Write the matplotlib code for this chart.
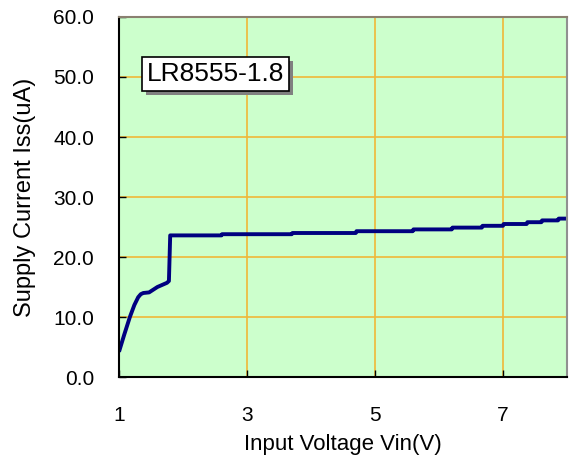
import matplotlib
matplotlib.use("Agg")
import matplotlib.pyplot as plt
from matplotlib import patheffects as pe

plt.rcParams['font.family'] = ['Liberation Sans', 'DejaVu Sans']

vin = [1.0, 1.08, 1.17, 1.24, 1.30, 1.34, 1.38, 1.47, 1.60, 1.75, 1.78, 1.80,
       2.60, 2.61, 3.70, 3.71, 4.70, 4.71, 5.59, 5.60, 6.20, 6.21, 6.67, 6.68,
       7.00, 7.01, 7.37, 7.38, 7.60, 7.61, 7.86, 7.87, 8.0]
iss = [4.2, 7.0, 10.0, 12.0, 13.3, 13.8, 14.0, 14.1, 15.0, 15.7, 16.0, 23.6,
       23.6, 23.8, 23.8, 24.0, 24.0, 24.3, 24.3, 24.6, 24.6, 24.9, 24.9, 25.2,
       25.2, 25.5, 25.5, 25.8, 25.8, 26.1, 26.1, 26.4, 26.4]

xticks = [1, 3, 5, 7]
yticks = [0, 10, 20, 30, 40, 50, 60]
label = "LR8555-1.8"

fig = plt.figure(figsize=(5.74, 4.65), dpi=100)
ax = fig.add_axes([119/574, 1-377/465, 448/574, 360/465])
ax.set_facecolor('#CCFFCC')
ax.set_xlim(1, 8)
ax.set_ylim(0, 60)
ax.set_xticks(xticks)
ax.set_yticks(yticks)
ax.set_yticklabels([f"{v:.1f}" for v in yticks])
ax.grid(True, color='#F0B838', linewidth=1.2)
ax.set_axisbelow(True)
ax.plot(vin, iss, color='#000080', linewidth=2.8, solid_capstyle='butt')

ax.tick_params(axis='both', direction='in', length=5, width=1, labelsize=15, colors='black')
ax.tick_params(axis='x', pad=21)
ax.tick_params(axis='y', pad=18)
for s in ['left', 'bottom']:
    ax.spines[s].set_color('black')
    ax.spines[s].set_linewidth(1.5)
ax.spines['top'].set_color('#8a8070')
ax.spines['top'].set_linewidth(1.5)
ax.spines['right'].set_color('#909090')
ax.spines['right'].set_linewidth(1.5)

ax.set_xlabel("Input Voltage Vin(V)", fontsize=16, labelpad=6)
ax.set_ylabel("Supply Current Iss(uA)", fontsize=17, labelpad=12)

t = ax.text(2.51, 50.5, label, ha='center', va='center', fontsize=19,
            bbox=dict(boxstyle='square,pad=0.18', facecolor='white', edgecolor='black', linewidth=1.2))
t.get_bbox_patch().set_path_effects([pe.SimplePatchShadow(offset=(3, -3), shadow_rgbFace='#808080', alpha=1.0), pe.Normal()])
fig.savefig("out.png", dpi=100)
